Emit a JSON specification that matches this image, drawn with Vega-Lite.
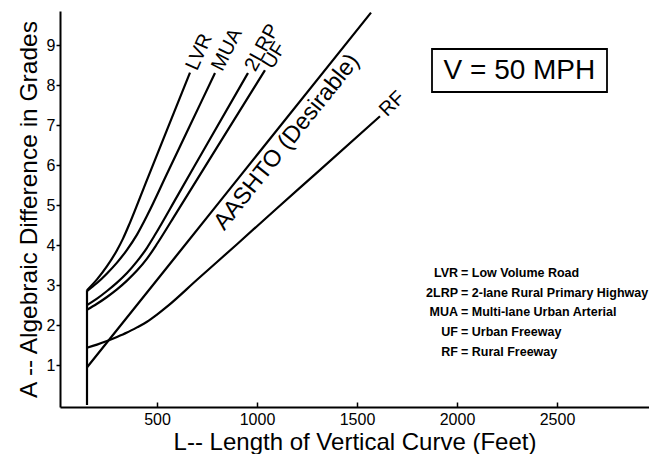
{
  "$schema": "https://vega.github.io/schema/vega-lite/v6.json",
  "width": 589,
  "height": 396,
  "autosize": {"type": "none"},
  "padding": {"left": 60, "top": 11, "right": 0, "bottom": 47},
  "background": "white",
  "config": {
    "view": {"stroke": null},
    "font": "Liberation Sans",
    "text": {"font": "Liberation Sans", "color": "black"}
  },
  "datasets": {
    "curves": [
      {"series": "min", "L": 150, "A": 0},
      {"series": "min", "L": 150, "A": 2.87},
      {"series": "LVR", "L": 150, "A": 2.87},
      {"series": "LVR", "L": 200, "A": 3.14},
      {"series": "LVR", "L": 250, "A": 3.47},
      {"series": "LVR", "L": 300, "A": 3.87},
      {"series": "LVR", "L": 330, "A": 4.16},
      {"series": "LVR", "L": 365, "A": 4.56},
      {"series": "LVR", "L": 450, "A": 5.63},
      {"series": "LVR", "L": 550, "A": 6.88},
      {"series": "LVR", "L": 665, "A": 8.31},
      {"series": "MUA", "L": 150, "A": 2.85},
      {"series": "MUA", "L": 200, "A": 3.05},
      {"series": "MUA", "L": 250, "A": 3.29},
      {"series": "MUA", "L": 300, "A": 3.56},
      {"series": "MUA", "L": 350, "A": 3.88},
      {"series": "MUA", "L": 400, "A": 4.26},
      {"series": "MUA", "L": 453, "A": 4.76},
      {"series": "MUA", "L": 550, "A": 5.78},
      {"series": "MUA", "L": 650, "A": 6.83},
      {"series": "MUA", "L": 790, "A": 8.3},
      {"series": "2LRP", "L": 150, "A": 2.5},
      {"series": "2LRP", "L": 200, "A": 2.66},
      {"series": "2LRP", "L": 250, "A": 2.85},
      {"series": "2LRP", "L": 300, "A": 3.06},
      {"series": "2LRP", "L": 350, "A": 3.3},
      {"series": "2LRP", "L": 400, "A": 3.59},
      {"series": "2LRP", "L": 450, "A": 3.93},
      {"series": "2LRP", "L": 487, "A": 4.23},
      {"series": "2LRP", "L": 600, "A": 5.21},
      {"series": "2LRP", "L": 750, "A": 6.52},
      {"series": "2LRP", "L": 955, "A": 8.3},
      {"series": "UF", "L": 150, "A": 2.38},
      {"series": "UF", "L": 200, "A": 2.53},
      {"series": "UF", "L": 250, "A": 2.7},
      {"series": "UF", "L": 300, "A": 2.89},
      {"series": "UF", "L": 350, "A": 3.11},
      {"series": "UF", "L": 400, "A": 3.36},
      {"series": "UF", "L": 450, "A": 3.66},
      {"series": "UF", "L": 503, "A": 4.05},
      {"series": "UF", "L": 600, "A": 4.83},
      {"series": "UF", "L": 800, "A": 6.44},
      {"series": "UF", "L": 1040, "A": 8.37},
      {"series": "AASHTO", "L": 150, "A": 0.94},
      {"series": "AASHTO", "L": 600, "A": 3.75},
      {"series": "AASHTO", "L": 1000, "A": 6.25},
      {"series": "AASHTO", "L": 1570, "A": 9.81},
      {"series": "RF", "L": 150, "A": 1.43},
      {"series": "RF", "L": 200, "A": 1.51},
      {"series": "RF", "L": 250, "A": 1.6},
      {"series": "RF", "L": 300, "A": 1.7},
      {"series": "RF", "L": 350, "A": 1.81},
      {"series": "RF", "L": 400, "A": 1.94},
      {"series": "RF", "L": 450, "A": 2.08},
      {"series": "RF", "L": 500, "A": 2.26},
      {"series": "RF", "L": 553, "A": 2.47},
      {"series": "RF", "L": 700, "A": 3.13},
      {"series": "RF", "L": 900, "A": 4.02},
      {"series": "RF", "L": 1100, "A": 4.92},
      {"series": "RF", "L": 1300, "A": 5.81},
      {"series": "RF", "L": 1615, "A": 7.22}
    ],
    "labels": [
      {"label": "LVR", "L": 665, "A": 8.31},
      {"label": "MUA", "L": 790, "A": 8.3},
      {"label": "2LRP", "L": 955, "A": 8.3},
      {"label": "UF", "L": 1040, "A": 8.37},
      {"label": "RF", "L": 1615, "A": 7.22},
      {"label": "AASHTO (Desirable)", "L": 1090, "A": 6.81}
    ],
    "box": [
      {"L": 1875, "L2": 2750, "A": 7.825, "A2": 8.9, "text": "V = 50 MPH", "Lc": 2312, "Ac": 8.36}
    ],
    "legend": [
      {"code": "LVR", "desc": "= Low Volume Road", "L": 2005, "L2": 2020, "A": 3.31},
      {"code": "2LRP", "desc": "= 2-lane Rural Primary Highway", "L": 2005, "L2": 2020, "A": 2.81},
      {"code": "MUA", "desc": "= Multi-lane Urban Arterial", "L": 2005, "L2": 2020, "A": 2.33},
      {"code": "UF", "desc": "= Urban Freeway", "L": 2005, "L2": 2020, "A": 1.83},
      {"code": "RF", "desc": "= Rural Freeway", "L": 2005, "L2": 2020, "A": 1.33}
    ]
  },
  "encoding": {
    "x": {
      "field": "L", "type": "quantitative",
      "scale": {"domain": [15, 2960], "nice": false, "zero": false},
      "axis": {
        "title": "L-- Length of Vertical Curve (Feet)",
        "values": [500, 1000, 1500, 2000, 2500],
        "format": "d",
        "grid": false,
        "domainColor": "black", "domainWidth": 2,
        "tickColor": "black", "tickWidth": 1.5, "tickSize": -5,
        "labelFontSize": 16, "labelColor": "black", "labelPadding": 9,
        "labelFont": "Liberation Sans",
        "titleFont": "Liberation Sans", "titleFontSize": 24, "titleFontWeight": "normal",
        "titleColor": "black", "titlePadding": 3
      }
    },
    "y": {
      "field": "A", "type": "quantitative",
      "scale": {"domain": [-0.05, 9.85], "nice": false, "zero": false},
      "axis": {
        "title": "A -- Algebraic Difference in Grades",
        "values": [1, 2, 3, 4, 5, 6, 7, 8, 9],
        "format": "d",
        "grid": false,
        "domainColor": "black", "domainWidth": 2,
        "tickColor": "black", "tickWidth": 1.5, "tickSize": 4,
        "labelFontSize": 16, "labelColor": "black", "labelPadding": 1,
        "labelFont": "Liberation Sans",
        "titleFont": "Liberation Sans", "titleFontSize": 24.5, "titleFontWeight": "normal",
        "titleColor": "black", "titlePadding": 5
      }
    }
  },
  "layer": [
    {
      "data": {"name": "curves"},
      "mark": {"type": "line", "color": "black", "strokeWidth": 2.2, "interpolate": "monotone"},
      "encoding": {
        "detail": {"field": "series", "type": "nominal"},
        "order": {"field": "A", "type": "quantitative"}
      }
    },
    {
      "data": {"name": "labels"},
      "transform": [{"filter": "datum.label === 'LVR'"}],
      "mark": {"type": "text", "align": "left", "baseline": "middle", "dx": 4, "fontSize": 20, "angle": 294},
      "encoding": {"text": {"field": "label"}}
    },
    {
      "data": {"name": "labels"},
      "transform": [{"filter": "datum.label === 'MUA'"}],
      "mark": {"type": "text", "align": "left", "baseline": "middle", "dx": 4, "fontSize": 20, "angle": 297},
      "encoding": {"text": {"field": "label"}}
    },
    {
      "data": {"name": "labels"},
      "transform": [{"filter": "datum.label === '2LRP'"}],
      "mark": {"type": "text", "align": "left", "baseline": "middle", "dx": 4, "fontSize": 20, "angle": 299},
      "encoding": {"text": {"field": "label"}}
    },
    {
      "data": {"name": "labels"},
      "transform": [{"filter": "datum.label === 'UF'"}],
      "mark": {"type": "text", "align": "left", "baseline": "middle", "dx": 4, "fontSize": 20, "angle": 302},
      "encoding": {"text": {"field": "label"}}
    },
    {
      "data": {"name": "labels"},
      "transform": [{"filter": "datum.label === 'RF'"}],
      "mark": {"type": "text", "align": "left", "baseline": "middle", "dx": 4, "fontSize": 20, "angle": 315},
      "encoding": {"text": {"field": "label"}}
    },
    {
      "data": {"name": "labels"},
      "transform": [{"filter": "datum.label === 'AASHTO (Desirable)'"}],
      "mark": {"type": "text", "align": "center", "baseline": "middle", "dy": 15, "fontSize": 23.5, "angle": 308.66},
      "encoding": {"text": {"field": "label"}}
    },
    {
      "data": {"name": "box"},
      "mark": {"type": "rect", "fillOpacity": 0, "stroke": "black", "strokeWidth": 1.8},
      "encoding": {
        "x2": {"field": "L2"},
        "y2": {"field": "A2"}
      }
    },
    {
      "data": {"name": "box"},
      "mark": {"type": "text", "align": "center", "baseline": "middle", "fontSize": 28},
      "encoding": {
        "x": {"field": "Lc", "type": "quantitative"},
        "y": {"field": "Ac", "type": "quantitative"},
        "text": {"field": "text"}
      }
    },
    {
      "data": {"name": "legend"},
      "mark": {"type": "text", "align": "right", "baseline": "middle", "fontSize": 12.5, "fontWeight": "bold"},
      "encoding": {"text": {"field": "code"}}
    },
    {
      "data": {"name": "legend"},
      "mark": {"type": "text", "align": "left", "baseline": "middle", "fontSize": 12.5, "fontWeight": "bold"},
      "encoding": {
        "x": {"field": "L2", "type": "quantitative"},
        "text": {"field": "desc"}
      }
    }
  ]
}
